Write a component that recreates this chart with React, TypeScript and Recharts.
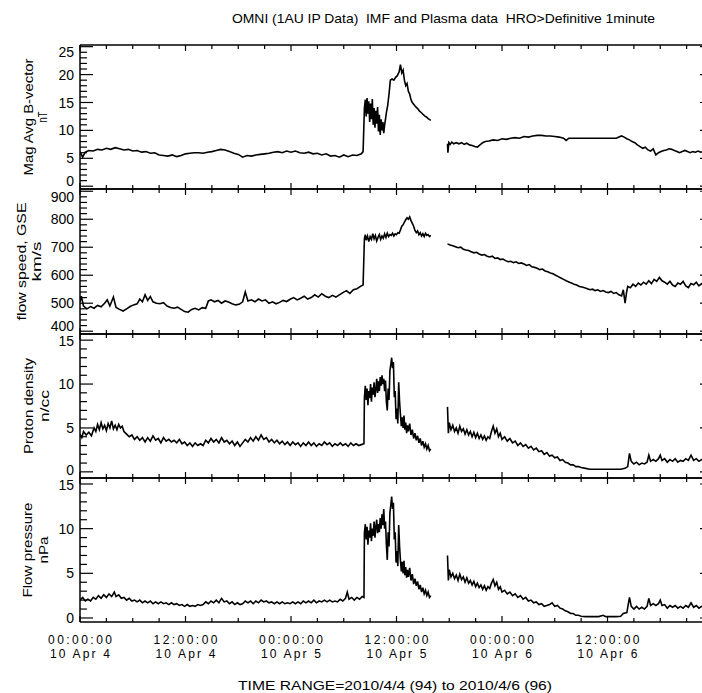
import { LineChart, Line, XAxis, YAxis } from "recharts"

// OMNI HRO 1-minute data, hours since 2010-04-04 00:00 UT; null marks the data gap
type Pt = [number, number | null]

const magField: Pt[] = [
  [0, 6.2], [0.3, 5.2], [0.6, 6.1], [1, 6.4], [1.5, 6.3], [2, 6.6], [2.5, 6.5], [3, 6.8], [3.5, 6.6],
  [4, 6.9], [4.5, 6.7], [5, 6.5], [5.5, 6.6], [6, 6.3], [6.5, 6.4], [7, 6.1], [7.5, 6.2], [8, 5.9],
  [8.5, 6.0], [9, 5.6], [9.5, 5.5], [10, 5.4], [10.5, 5.6], [11, 5.3], [11.5, 5.5], [12, 5.8],
  [12.5, 5.9], [13, 6.0], [13.5, 6.0], [14, 5.9], [14.5, 6.1], [15, 6.2], [15.5, 6.4], [16, 6.6],
  [16.5, 6.5], [17, 6.2], [17.5, 5.9], [18, 5.7], [18.5, 5.2], [19, 5.5], [19.5, 5.4], [20, 5.6],
  [20.5, 5.7], [21, 5.8], [21.5, 5.9], [22, 6.1], [22.5, 6.2], [23, 6.0], [23.5, 6.3], [24, 6.1],
  [24.5, 6.3], [25, 6.0], [25.5, 5.9], [26, 6.1], [26.5, 5.8], [27, 5.9], [27.5, 5.6], [28, 5.8],
  [28.5, 5.4], [29, 5.5], [29.5, 5.2], [30, 5.6], [30.5, 5.3], [31, 5.6], [31.5, 5.5], [32, 5.8],
  [32.2, 6.2], [32.35, 14.0], [32.45, 15.5], [32.55, 12.5], [32.65, 15.8], [32.75, 13.0],
  [32.85, 15.2], [32.95, 11.5], [33.05, 14.8], [33.15, 12.0], [33.25, 15.6], [33.35, 11.0],
  [33.45, 14.0], [33.55, 10.5], [33.65, 13.5], [33.75, 11.2], [33.85, 14.2], [33.95, 9.8],
  [34.05, 12.8], [34.15, 9.2], [34.25, 12.0], [34.35, 10.0], [34.45, 11.5], [34.55, 9.5],
  [34.65, 11.0], [34.75, 12.0], [34.85, 13.2], [35.0, 14.5], [35.15, 16.5], [35.3, 19.0],
  [35.5, 19.2], [35.7, 19.0], [35.9, 19.5], [36.1, 19.8], [36.3, 20.5], [36.45, 21.8], [36.6, 20.3],
  [36.75, 20.8], [36.9, 19.0], [37.05, 18.0], [37.2, 18.4], [37.35, 17.0], [37.5, 16.5],
  [37.65, 15.5], [37.8, 15.0], [38.0, 14.6], [38.2, 14.2], [38.4, 13.9], [38.6, 13.5], [38.8, 13.2],
  [39.0, 12.9], [39.2, 12.6], [39.4, 12.4], [39.6, 12.1], [39.9, 11.8], [40.5, null],
  [41.8, 7.6], [41.85, 6.0], [41.95, 7.8], [42.1, 7.5], [42.3, 7.9], [42.5, 7.6], [42.8, 7.8],
  [43.1, 7.6], [43.4, 7.8], [43.7, 7.5], [44.0, 7.7], [44.3, 7.4], [44.6, 7.3], [44.9, 7.1],
  [45.2, 7.0], [45.5, 7.4], [45.8, 7.8], [46.1, 8.0], [46.5, 8.1], [47.0, 8.3], [47.5, 8.2],
  [48.0, 8.5], [48.5, 8.4], [49.0, 8.6], [49.5, 8.7], [50.0, 8.6], [50.5, 8.9], [51.0, 8.8],
  [51.5, 9.0], [52.0, 9.1], [52.5, 9.1], [53.0, 9.0], [53.5, 9.0], [54.0, 8.9], [54.5, 8.8],
  [55.0, 8.6], [55.3, 8.2], [55.6, 8.6], [56, 8.6], [57, 8.6], [58, 8.6], [59, 8.6], [60, 8.6],
  [61, 8.6], [61.3, 8.8], [61.6, 9.0], [61.9, 8.8], [62.2, 8.5], [62.5, 8.3], [62.8, 8.0],
  [63.1, 7.8], [63.4, 7.4], [63.7, 7.1], [64.0, 6.8], [64.3, 7.0], [64.6, 6.5], [64.9, 6.3],
  [65.2, 6.7], [65.5, 5.6], [65.8, 6.0], [66.1, 6.2], [66.4, 6.4], [66.7, 6.5], [67.0, 6.7],
  [67.3, 6.6], [67.6, 6.4], [67.9, 6.2], [68.2, 6.0], [68.5, 6.2], [68.8, 6.4], [69.1, 6.2],
  [69.4, 6.0], [69.7, 6.2], [70.0, 6.1], [70.3, 6.3], [70.6, 6.1], [71, 6.2], [71.5, 6.0], [72, 6.1],
]

const flowSpeed: Pt[] = [
  [0, 505], [0.15, 525], [0.4, 490], [0.8, 480], [1.2, 488], [1.6, 482], [2.0, 492], [2.4, 487],
  [2.8, 500], [3.1, 512], [3.4, 490], [3.8, 522], [4.1, 485], [4.5, 478], [4.9, 472], [5.3, 480],
  [5.7, 488], [6.1, 494], [6.5, 498], [6.8, 515], [7.1, 505], [7.4, 530], [7.7, 510], [8.0, 524],
  [8.3, 505], [8.7, 500], [9.1, 498], [9.5, 502], [9.9, 490], [10.3, 485], [10.7, 482], [11.1, 486],
  [11.5, 478], [11.9, 470], [12.3, 468], [12.7, 478], [13.1, 482], [13.5, 476], [13.9, 484],
  [14.3, 482], [14.6, 508], [14.9, 512], [15.3, 505], [15.7, 510], [16.1, 500], [16.5, 508],
  [16.9, 504], [17.3, 498], [17.7, 494], [18.1, 496], [18.5, 505], [18.8, 540], [19.1, 508],
  [19.5, 512], [19.9, 505], [20.3, 515], [20.7, 508], [21.1, 512], [21.5, 500], [21.9, 505],
  [22.3, 498], [22.7, 503], [23.1, 510], [23.5, 506], [23.9, 514], [24.3, 520], [24.7, 512],
  [25.1, 518], [25.5, 525], [25.9, 515], [26.3, 520], [26.7, 530], [27.1, 522], [27.5, 534],
  [27.9, 525], [28.3, 520], [28.7, 528], [29.1, 522], [29.5, 530], [29.9, 538], [30.3, 545],
  [30.7, 535], [31.1, 548], [31.5, 552], [31.9, 560], [32.2, 565], [32.35, 730], [32.45, 745],
  [32.55, 725], [32.7, 740], [32.85, 720], [33.0, 738], [33.15, 728], [33.3, 748], [33.45, 730],
  [33.6, 742], [33.75, 722], [33.9, 735], [34.05, 745], [34.2, 728], [34.35, 740], [34.5, 732],
  [34.65, 748], [34.8, 735], [34.95, 750], [35.1, 738], [35.25, 745], [35.4, 742], [35.55, 750],
  [35.7, 740], [35.85, 748], [36.0, 745], [36.15, 752], [36.3, 750], [36.45, 762], [36.6, 775],
  [36.75, 780], [36.9, 790], [37.05, 798], [37.2, 805], [37.35, 800], [37.5, 808], [37.65, 795],
  [37.8, 785], [37.95, 775], [38.1, 760], [38.25, 752], [38.4, 758], [38.55, 745], [38.7, 752],
  [38.85, 740], [39.0, 748], [39.15, 738], [39.3, 750], [39.45, 742], [39.6, 745], [39.75, 738],
  [39.9, 742], [40.5, null],
  [41.8, 712], [42.1, 708], [42.4, 705], [42.7, 702], [43.0, 698], [43.3, 700], [43.6, 693],
  [43.9, 690], [44.2, 688], [44.5, 684], [44.8, 680], [45.1, 682], [45.4, 676], [45.7, 672],
  [46.0, 674], [46.3, 668], [46.6, 665], [46.9, 668], [47.2, 660], [47.5, 662], [47.8, 656],
  [48.1, 658], [48.4, 652], [48.7, 648], [49.0, 650], [49.3, 645], [49.6, 648], [49.9, 642],
  [50.2, 644], [50.5, 640], [50.8, 635], [51.1, 638], [51.4, 630], [51.7, 628], [52.0, 625],
  [52.3, 620], [52.6, 622], [52.9, 615], [53.2, 612], [53.5, 608], [53.8, 605], [54.1, 600],
  [54.4, 595], [54.7, 590], [55.0, 585], [55.3, 580], [55.6, 576], [55.9, 572], [56.2, 568],
  [56.5, 565], [56.8, 560], [57.1, 558], [57.4, 555], [57.7, 552], [58.0, 548], [58.3, 550],
  [58.6, 545], [58.9, 548], [59.2, 542], [59.5, 545], [59.8, 540], [60.1, 538], [60.4, 542],
  [60.7, 535], [61.0, 538], [61.3, 530], [61.6, 526], [61.8, 548], [62.0, 500], [62.15, 535],
  [62.3, 560], [62.6, 555], [62.9, 568], [63.2, 560], [63.5, 572], [63.8, 565], [64.1, 575],
  [64.4, 568], [64.7, 580], [65.0, 570], [65.3, 585], [65.6, 578], [65.9, 592], [66.2, 580],
  [66.5, 575], [66.8, 568], [67.1, 578], [67.4, 565], [67.7, 560], [68.0, 572], [68.3, 568],
  [68.6, 578], [68.9, 562], [69.2, 556], [69.5, 570], [69.8, 566], [70.1, 575], [70.4, 562],
  [70.7, 570], [71.0, 560], [71.5, 568], [72.0, 565],
]

const protonDensity: Pt[] = [
  [0, 4.3], [0.2, 3.9], [0.4, 4.6], [0.7, 4.2], [1.0, 4.5], [1.3, 4.1], [1.6, 5.0], [1.8, 4.6],
  [2.0, 5.4], [2.2, 4.8], [2.4, 5.6], [2.6, 4.9], [2.8, 5.3], [3.0, 4.7], [3.2, 5.5], [3.4, 5.0],
  [3.6, 5.8], [3.8, 4.9], [4.0, 5.3], [4.2, 4.8], [4.4, 5.4], [4.6, 5.0], [4.8, 5.2], [5.0, 4.6],
  [5.3, 4.3], [5.6, 4.0], [5.9, 4.2], [6.2, 3.7], [6.5, 4.0], [6.8, 3.6], [7.1, 3.9], [7.4, 3.4],
  [7.7, 3.9], [8.0, 3.5], [8.3, 4.1], [8.6, 3.6], [8.9, 3.8], [9.2, 3.3], [9.5, 3.9], [9.8, 3.5],
  [10.1, 3.7], [10.4, 3.4], [10.7, 3.6], [11.0, 3.3], [11.3, 3.7], [11.6, 3.2], [11.9, 3.4],
  [12.2, 3.0], [12.5, 3.3], [12.8, 2.9], [13.1, 3.3], [13.4, 3.0], [13.7, 3.2], [14.0, 3.0],
  [14.3, 3.6], [14.6, 3.3], [14.9, 3.8], [15.2, 3.4], [15.5, 3.7], [15.8, 3.3], [16.1, 3.9],
  [16.4, 3.4], [16.7, 3.6], [17.0, 3.2], [17.3, 3.5], [17.6, 3.0], [17.9, 3.4], [18.2, 2.9],
  [18.5, 3.3], [18.8, 3.7], [19.1, 3.4], [19.4, 3.9], [19.7, 3.5], [20.0, 4.0], [20.3, 3.6],
  [20.6, 4.2], [20.9, 3.7], [21.2, 3.9], [21.5, 3.4], [21.8, 3.7], [22.1, 3.3], [22.4, 3.6],
  [22.7, 3.2], [23.0, 3.5], [23.3, 3.1], [23.6, 3.4], [23.9, 3.0], [24.2, 3.4], [24.5, 3.1],
  [24.8, 3.3], [25.1, 2.9], [25.4, 3.3], [25.7, 3.0], [26.0, 3.4], [26.3, 3.0], [26.6, 3.3],
  [26.9, 2.9], [27.2, 3.2], [27.5, 3.0], [27.8, 3.4], [28.1, 3.1], [28.4, 3.3], [28.7, 2.9],
  [29.0, 3.2], [29.3, 3.0], [29.6, 3.3], [29.9, 3.0], [30.2, 3.2], [30.5, 2.9], [30.8, 3.3],
  [31.1, 3.0], [31.4, 3.2], [31.7, 3.0], [32.0, 3.1], [32.3, 3.2], [32.35, 8.5], [32.45, 9.8],
  [32.55, 8.2], [32.65, 9.5], [32.75, 7.6], [32.85, 9.2], [32.95, 8.4], [33.05, 10.0], [33.15, 8.0],
  [33.25, 9.6], [33.35, 8.8], [33.45, 10.2], [33.55, 8.5], [33.65, 9.4], [33.75, 10.6], [33.85, 9.0],
  [33.95, 10.3], [34.05, 9.2], [34.15, 10.8], [34.25, 9.8], [34.35, 11.0], [34.45, 10.0],
  [34.55, 10.6], [34.65, 9.2], [34.75, 10.4], [34.85, 8.0], [34.95, 7.0], [35.05, 9.5], [35.15, 8.2],
  [35.25, 11.5], [35.35, 12.2], [35.45, 13.0], [35.55, 11.8], [35.65, 12.5], [35.75, 8.5],
  [35.85, 9.2], [35.95, 6.0], [36.05, 7.2], [36.15, 5.5], [36.25, 10.2], [36.35, 8.0], [36.45, 6.5],
  [36.55, 5.2], [36.65, 6.2], [36.75, 5.0], [36.85, 6.4], [36.95, 4.8], [37.05, 5.6], [37.15, 4.4],
  [37.25, 5.3], [37.35, 4.6], [37.5, 5.5], [37.65, 4.2], [37.8, 4.8], [37.95, 3.8], [38.1, 4.4],
  [38.25, 3.6], [38.4, 4.1], [38.55, 3.3], [38.7, 3.8], [38.85, 3.0], [39.0, 3.5], [39.15, 2.8],
  [39.3, 3.2], [39.45, 2.6], [39.6, 3.0], [39.75, 2.4], [39.9, 2.6], [40.5, null],
  [41.8, 7.4], [41.9, 4.4], [42.0, 5.6], [42.2, 4.8], [42.4, 5.3], [42.6, 4.6], [42.8, 5.0],
  [43.0, 4.4], [43.2, 5.2], [43.4, 4.6], [43.6, 4.9], [43.8, 4.3], [44.0, 4.8], [44.2, 4.2],
  [44.4, 4.6], [44.6, 4.0], [44.8, 4.5], [45.0, 3.9], [45.2, 4.4], [45.4, 3.8], [45.6, 4.2],
  [45.8, 3.7], [46.0, 4.1], [46.2, 3.6], [46.4, 4.0], [46.6, 3.8], [46.8, 4.6], [47.0, 5.2],
  [47.2, 4.4], [47.4, 4.9], [47.6, 4.0], [47.8, 4.4], [48.0, 3.7], [48.3, 4.0], [48.6, 3.5],
  [48.9, 3.8], [49.2, 3.3], [49.5, 3.5], [49.8, 3.0], [50.1, 3.3], [50.4, 2.9], [50.7, 3.1],
  [51.0, 2.7], [51.3, 2.9], [51.6, 2.5], [51.9, 2.7], [52.2, 2.3], [52.5, 2.4], [52.8, 2.0],
  [53.1, 2.2], [53.4, 1.8], [53.7, 1.9], [54.0, 1.6], [54.3, 1.7], [54.6, 1.3], [54.9, 1.4],
  [55.2, 1.1], [55.5, 1.0], [55.8, 0.8], [56.1, 0.8], [56.4, 0.6], [56.7, 0.6], [57.0, 0.5],
  [57.5, 0.4], [58.0, 0.3], [58.5, 0.3], [59.0, 0.3], [59.5, 0.3], [60.0, 0.3], [60.5, 0.3],
  [61.0, 0.3], [61.5, 0.3], [62.0, 0.4], [62.3, 0.6], [62.5, 2.1], [62.7, 1.2], [63.0, 0.9],
  [63.3, 1.1], [63.6, 0.8], [63.9, 1.0], [64.2, 0.9], [64.5, 1.1], [64.7, 1.9], [64.9, 1.2],
  [65.2, 1.4], [65.5, 1.2], [65.8, 1.5], [66.0, 1.9], [66.2, 1.3], [66.5, 1.5], [66.8, 1.1],
  [67.1, 1.4], [67.4, 1.2], [67.7, 1.5], [68.0, 1.1], [68.3, 1.3], [68.6, 1.2], [68.9, 1.5],
  [69.2, 1.3], [69.5, 1.9], [69.8, 1.3], [70.1, 1.5], [70.4, 1.2], [70.7, 1.4], [71.0, 1.3],
  [71.4, 1.5], [71.7, 1.2], [72.0, 1.4],
]

const flowPressure: Pt[] = [
  [0, 2.0], [0.3, 2.3], [0.6, 1.9], [0.9, 2.1], [1.2, 1.9], [1.5, 2.3], [1.8, 2.1], [2.1, 2.5],
  [2.4, 2.2], [2.7, 2.6], [3.0, 2.3], [3.3, 2.7], [3.6, 2.4], [3.9, 2.9], [4.1, 2.4], [4.4, 2.6],
  [4.7, 2.2], [5.0, 2.3], [5.3, 2.0], [5.6, 2.2], [5.9, 1.9], [6.2, 2.0], [6.5, 1.8], [6.8, 2.0],
  [7.1, 1.7], [7.4, 1.9], [7.7, 1.7], [8.0, 1.9], [8.3, 1.6], [8.6, 1.8], [8.9, 1.6], [9.2, 1.8],
  [9.5, 1.6], [9.8, 1.7], [10.1, 1.5], [10.4, 1.7], [10.7, 1.5], [11.0, 1.6], [11.3, 1.4],
  [11.6, 1.5], [11.9, 1.3], [12.2, 1.5], [12.5, 1.3], [12.8, 1.4], [13.1, 1.3], [13.4, 1.5],
  [13.7, 1.4], [14.0, 1.5], [14.3, 1.8], [14.6, 1.6], [14.9, 1.9], [15.2, 1.7], [15.5, 2.0],
  [15.8, 1.7], [16.1, 2.2], [16.4, 1.8], [16.7, 1.9], [17.0, 1.6], [17.3, 1.8], [17.6, 1.5],
  [17.9, 1.7], [18.2, 1.5], [18.5, 1.6], [18.8, 1.9], [19.1, 1.7], [19.4, 1.9], [19.7, 1.6],
  [20.0, 1.9], [20.3, 1.7], [20.6, 2.0], [20.9, 1.8], [21.2, 1.9], [21.5, 1.7], [21.8, 1.8],
  [22.1, 1.6], [22.4, 1.8], [22.7, 1.6], [23.0, 1.8], [23.3, 1.6], [23.6, 1.7], [23.9, 1.6],
  [24.2, 1.8], [24.5, 1.6], [24.8, 1.8], [25.1, 1.6], [25.4, 1.9], [25.7, 1.7], [26.0, 1.9],
  [26.3, 1.7], [26.6, 2.0], [26.9, 1.7], [27.2, 1.9], [27.5, 1.8], [27.8, 2.0], [28.1, 1.8],
  [28.4, 2.0], [28.7, 1.8], [29.0, 1.9], [29.3, 1.8], [29.6, 2.1], [29.9, 1.9], [30.2, 2.2],
  [30.4, 2.9], [30.6, 2.1], [30.9, 2.3], [31.2, 2.0], [31.5, 2.3], [31.8, 2.1], [32.1, 2.4],
  [32.3, 2.3], [32.35, 9.5], [32.45, 10.5], [32.55, 8.8], [32.65, 10.2], [32.75, 8.2], [32.85, 9.8],
  [32.95, 9.0], [33.05, 10.6], [33.15, 8.6], [33.25, 10.0], [33.35, 9.2], [33.45, 10.8], [33.55, 9.0],
  [33.65, 10.2], [33.75, 11.0], [33.85, 9.5], [33.95, 10.5], [34.05, 9.6], [34.15, 11.2],
  [34.25, 10.0], [34.35, 11.6], [34.45, 10.4], [34.55, 12.2], [34.65, 10.0], [34.75, 10.8],
  [34.85, 8.2], [34.95, 6.5], [35.05, 9.6], [35.15, 8.0], [35.25, 11.8], [35.35, 12.6],
  [35.45, 13.6], [35.55, 12.2], [35.65, 12.9], [35.75, 8.8], [35.85, 9.6], [35.95, 6.2],
  [36.05, 7.5], [36.15, 5.8], [36.25, 10.4], [36.35, 8.0], [36.45, 6.4], [36.55, 5.2], [36.65, 6.3],
  [36.75, 5.0], [36.85, 6.4], [36.95, 4.8], [37.05, 5.7], [37.15, 4.5], [37.25, 5.4], [37.35, 4.6],
  [37.5, 5.6], [37.65, 4.2], [37.8, 4.9], [37.95, 3.8], [38.1, 4.4], [38.25, 3.6], [38.4, 4.1],
  [38.55, 3.2], [38.7, 3.7], [38.85, 2.9], [39.0, 3.4], [39.15, 2.7], [39.3, 3.1], [39.45, 2.5],
  [39.6, 2.9], [39.75, 2.3], [39.9, 2.5], [40.5, null],
  [41.8, 7.0], [41.9, 4.2], [42.0, 5.4], [42.2, 4.6], [42.4, 5.0], [42.6, 4.4], [42.8, 4.8],
  [43.0, 4.2], [43.2, 4.9], [43.4, 4.3], [43.6, 4.6], [43.8, 4.0], [44.0, 4.5], [44.2, 3.9],
  [44.4, 4.2], [44.6, 3.7], [44.8, 4.1], [45.0, 3.5], [45.2, 3.9], [45.4, 3.4], [45.6, 3.7],
  [45.8, 3.2], [46.0, 3.6], [46.2, 3.1], [46.4, 3.5], [46.6, 3.3], [46.8, 3.9], [47.0, 4.3],
  [47.2, 3.6], [47.4, 4.0], [47.6, 3.2], [47.8, 3.5], [48.0, 2.9], [48.3, 3.1], [48.6, 2.7],
  [48.9, 2.9], [49.2, 2.5], [49.5, 2.7], [49.8, 2.3], [50.1, 2.5], [50.4, 2.1], [50.7, 2.3],
  [51.0, 1.9], [51.3, 2.0], [51.6, 1.7], [51.9, 1.8], [52.2, 1.5], [52.5, 1.6], [52.8, 1.3],
  [53.1, 1.4], [53.4, 1.5], [53.7, 1.7], [54.0, 1.3], [54.3, 1.4], [54.6, 1.1], [54.9, 1.0],
  [55.2, 0.8], [55.5, 0.7], [55.8, 0.5], [56.1, 0.5], [56.4, 0.3], [56.7, 0.3], [57.0, 0.2],
  [57.5, 0.15], [58.0, 0.15], [58.5, 0.15], [59.0, 0.15], [59.5, 0.3], [59.8, 0.15], [60.5, 0.15],
  [61.0, 0.15], [61.5, 0.2], [61.8, 0.5], [62.2, 0.6], [62.5, 2.3], [62.7, 1.3], [63.0, 1.0],
  [63.3, 1.3], [63.6, 1.0], [63.9, 1.2], [64.2, 1.0], [64.5, 1.3], [64.7, 2.2], [64.9, 1.4],
  [65.2, 1.6], [65.5, 1.4], [65.8, 1.6], [66.0, 2.0], [66.2, 1.4], [66.5, 1.5], [66.8, 1.1],
  [67.1, 1.4], [67.4, 1.2], [67.7, 1.4], [68.0, 1.1], [68.3, 1.3], [68.6, 1.1], [68.9, 1.4],
  [69.2, 1.2], [69.5, 1.7], [69.8, 1.2], [70.1, 1.4], [70.4, 1.1], [70.7, 1.3], [71.0, 1.2],
  [71.4, 1.4], [71.7, 1.1], [72.0, 1.3],
]

const hourTicks = [0, 3, 6, 9, 12, 15, 18, 21, 24, 27, 30, 33, 36, 39, 42, 45, 48, 51, 54, 57, 60, 63, 66, 69, 72]
const labelHours = [0, 12, 24, 36, 48, 60]
const timeLabels = ["00:00:00", "12:00:00", "00:00:00", "12:00:00", "00:00:00", "12:00:00"]
const dateLabels = ["10 Apr  4", "10 Apr  4", "10 Apr  5", "10 Apr  5", "10 Apr  6", "10 Apr  6"]

const plotTitle = "OMNI (1AU IP Data)  IMF and Plasma data  HRO>Definitive 1minute"
const rangeTitle = "TIME RANGE=2010/4/4 (94) to 2010/4/6 (96)"

const range = (a: number, b: number, step: number) => {
  const out: number[] = []
  for (let v = a; v <= b + 1e-9; v += step) out.push(Math.round(v * 1000) / 1000)
  return out
}

const FONT = "'Liberation Sans', Arial, sans-serif"
const INK = "#000"
const WIDTH = 720

const rows = (pts: Pt[]) => pts.map(([h, v]) => ({ h, v }))

type Panel = {
  data: Pt[]
  domain: [number, number]
  ticks: number[]
  major: number
  nudge: { top: number; bottom: number } // keeps the end labels of stacked panels apart
  titles: { text: string; x: number; len: number }[]
  top: number
  plotH: number
  mt: number
  mb: number
}

const panels: Panel[] = [
  {
    data: magField, domain: [-0.5, 25.3], ticks: range(0, 25, 1), major: 5, nudge: { top: 5, bottom: -5 },
    titles: [{ text: "Mag Avg B-vector", x: 28, len: 117 }, { text: "nT", x: 42, len: 11 }],
    top: 0, plotH: 144, mt: 45, mb: 12,
  },
  {
    data: flowSpeed, domain: [390, 908], ticks: range(400, 900, 20), major: 100, nudge: { top: 6, bottom: -5 },
    titles: [{ text: "flow speed, GSE", x: 21, len: 118 }, { text: "km/s", x: 36, len: 40 }],
    top: 177, plotH: 145, mt: 12, mb: 12,
  },
  {
    data: protonDensity, domain: [-0.7, 15.7], ticks: range(0, 15, 1), major: 5, nudge: { top: 1, bottom: -2 },
    titles: [{ text: "Proton density", x: 28, len: 96 }, { text: "n/cc", x: 44, len: 32 }],
    top: 322, plotH: 144, mt: 12, mb: 12,
  },
  {
    data: flowPressure, domain: [-0.45, 15.67], ticks: range(0, 15, 1), major: 5, nudge: { top: 1, bottom: 0 },
    titles: [{ text: "Flow pressure", x: 27, len: 95 }, { text: "nPa", x: 43, len: 27 }],
    top: 466, plotH: 144, mt: 12, mb: 71,
  },
]

const xTick = (side: "top" | "bottom", labelled: boolean) => (p: any) => {
  const { x, y, payload } = p
  const h = payload.value as number
  const len = h % 12 === 0 ? 6 : 4
  const dir = side === "top" ? 1 : -1
  const i = labelHours.indexOf(h)
  return (
    <g>
      <line x1={x} x2={x} y1={y} y2={y + dir * len} stroke={INK} strokeWidth={1.2} />
      {labelled && i >= 0 && (
        <g fontFamily={FONT} fontSize={12} fill={INK} style={{ whiteSpace: "pre" }}>
          <text x={x} y={y + 22} textAnchor="middle" textLength={64} lengthAdjust="spacing">
            {timeLabels[i]}
          </text>
          <text x={x} y={y + 36} textAnchor="middle" textLength={60} lengthAdjust="spacing">
            {dateLabels[i]}
          </text>
        </g>
      )}
    </g>
  )
}

const yTick = (side: "left" | "right", pn: Panel) => (p: any) => {
  const { x, y, payload } = p
  const v = payload.value as number
  const isMajor = Math.abs(v / pn.major - Math.round(v / pn.major)) < 1e-6
  const len = isMajor ? 13 : 7
  const dir = side === "left" ? 1 : -1
  const first = pn.ticks[0]
  const last = pn.ticks[pn.ticks.length - 1]
  const shift = v === last ? pn.nudge.top : v === first ? pn.nudge.bottom : 0
  return (
    <g>
      <line x1={x} x2={x + dir * len} y1={y} y2={y} stroke={INK} strokeWidth={1.2} />
      {side === "left" && isMajor && (
        <text x={x - 6} y={y + shift} dy="0.36em" textAnchor="end" fontFamily={FONT} fontSize={14} fill={INK}>
          {v}
        </text>
      )}
    </g>
  )
}

// Recharts clones label elements with its own x/y, so positions use other prop names
function AxisTitle({ titles, midY }: { titles: Panel["titles"]; midY: number }) {
  return (
    <g>
      {titles.map((t) => (
        <text
          key={t.text}
          transform={`translate(${t.x},${midY}) rotate(-90)`}
          dy="0.36em"
          textAnchor="middle"
          fontFamily={FONT}
          fontSize={13}
          fill={INK}
          textLength={t.len}
          lengthAdjust="spacingAndGlyphs"
        >
          {t.text}
        </text>
      ))}
    </g>
  )
}

function HeaderText({ text, left, midY, len }: { text: string; left: number; midY: number; len: number }) {
  return (
    <text
      x={left}
      y={midY}
      dy="0.36em"
      fontFamily={FONT}
      fontSize={13}
      fill={INK}
      textLength={len}
      lengthAdjust="spacingAndGlyphs"
      style={{ whiteSpace: "pre" }}
    >
      {text}
    </text>
  )
}

const axisLine = { stroke: INK, strokeWidth: 1.5 }

export default function App() {
  return (
    <div style={{ position: "absolute", left: 0, top: 0, width: 702, height: 693, overflow: "hidden", background: "#fff" }}>
      {panels.map((pn, idx) => {
        const last = idx === panels.length - 1
        const height = pn.mt + pn.plotH + pn.mb
        return (
          <div key={idx} style={{ position: "absolute", left: 0, top: pn.top }}>
            <LineChart
              width={WIDTH}
              height={height}
              data={rows(pn.data)}
              margin={{ top: pn.mt - 1, right: 0, bottom: pn.mb - 1, left: 0 }}
            >
              <XAxis
                dataKey="h"
                type="number"
                domain={[0, 72]}
                ticks={hourTicks}
                interval={0}
                height={1}
                tickSize={0}
                tickMargin={0}
                tickLine={false}
                axisLine={axisLine}
                tick={xTick("bottom", last)}
                allowDataOverflow
                label={last ? <HeaderText text={rangeTitle} left={238} midY={219} len={314} /> : undefined}
              />
              <XAxis
                xAxisId="top"
                orientation="top"
                dataKey="h"
                type="number"
                domain={[0, 72]}
                ticks={hourTicks}
                interval={0}
                height={1}
                tickSize={0}
                tickMargin={0}
                tickLine={false}
                axisLine={axisLine}
                tick={xTick("top", false)}
                allowDataOverflow
                label={idx === 0 ? <HeaderText text={plotTitle} left={232} midY={18} len={423} /> : undefined}
              />
              <YAxis
                type="number"
                domain={pn.domain}
                ticks={pn.ticks}
                interval={0}
                width={80}
                tickSize={0}
                tickMargin={0}
                tickLine={false}
                axisLine={axisLine}
                tick={yTick("left", pn)}
                allowDataOverflow
                label={<AxisTitle titles={pn.titles} midY={pn.mt + pn.plotH / 2} />}
              />
              <YAxis
                yAxisId="right"
                orientation="right"
                type="number"
                domain={pn.domain}
                ticks={pn.ticks}
                interval={0}
                width={7}
                tickSize={0}
                tickMargin={0}
                tickLine={false}
                axisLine={axisLine}
                tick={yTick("right", pn)}
                allowDataOverflow
              />
              <Line
                type="linear"
                dataKey="v"
                stroke={INK}
                strokeWidth={1.6}
                dot={false}
                activeDot={false}
                isAnimationActive={false}
              />
            </LineChart>
          </div>
        )
      })}
    </div>
  )
}
